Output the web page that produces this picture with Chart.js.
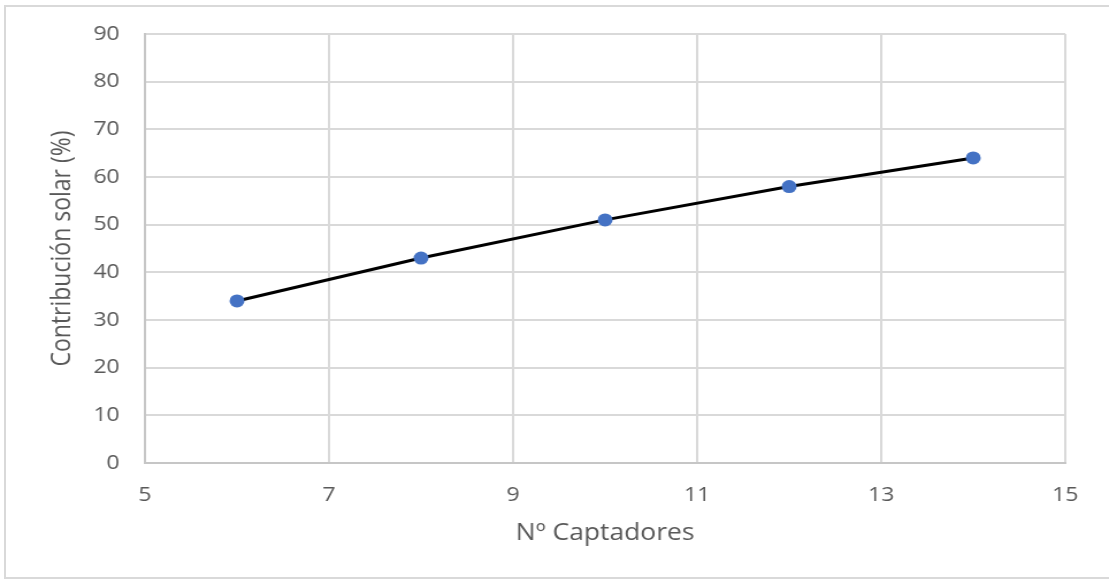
<!DOCTYPE html>
<html lang="es">
<head>
<meta charset="utf-8">
<title>Contribución solar</title>
<script src="https://cdn.jsdelivr.net/npm/chart.js@4/dist/chart.umd.min.js"></script>
<style>
  html, body { margin: 0; padding: 0; background: #ffffff; overflow: hidden; }
  body { width: 1109px; height: 582px; position: relative; }
  #frame {
    position: absolute; left: 4px; top: 5px; width: 1120px; height: 574px;
    border: 2px solid #d9d9d9; box-sizing: border-box;
  }
  #wrap {
    position: absolute; left: 0; top: 0; width: 964px; height: 582px;
    transform: scaleX(1.1504); transform-origin: 0 0;
  }
</style>
</head>
<body>
<div id="frame"></div>
<div id="wrap"><canvas id="chart" width="964" height="582"></canvas></div>
<script>
// Número de captadores y contribución solar obtenida (%)
const captadores = [6, 8, 10, 12, 14];
const contribucion = [34, 43, 51, 58, 64];

// Ejes
const xMin = 5, xMax = 15, xStep = 2;
const yMin = 0, yMax = 90, yStep = 10;
const xTitle = 'Nº Captadores';
const yTitle = 'Contribución solar (%)';

const points = captadores.map((x, i) => ({ x: x, y: contribucion[i] }));

const textColor = '#595959';
const gridColor = '#d9d9d9';
const axisColor = '#c6c6c6';

new Chart(document.getElementById('chart'), {
  type: 'scatter',
  data: {
    datasets: [{
      data: points,
      showLine: true,
      borderColor: '#000000',
      borderWidth: 3,
      tension: 0,
      pointRadius: 6.5,
      pointHoverRadius: 6.5,
      pointBackgroundColor: '#4472c4',
      pointBorderColor: '#4472c4',
      pointBorderWidth: 0
    }]
  },
  options: {
    responsive: false,
    animation: false,
    devicePixelRatio: 1,
    layout: { padding: { top: 34, right: 38, bottom: 0, left: 0 } },
    plugins: { legend: { display: false }, tooltip: { enabled: false } },
    scales: {
      x: {
        type: 'linear',
        min: xMin, max: xMax,
        afterFit: (scale) => { scale.height = 119; },
        ticks: {
          stepSize: xStep,
          color: textColor,
          padding: 20,
          font: { family: 'Open Sans', size: 20 }
        },
        grid: { color: gridColor, lineWidth: 2, drawTicks: false },
        border: { color: axisColor, width: 2 },
        title: {
          display: true,
          text: xTitle,
          color: textColor,
          font: { family: 'Open Sans', size: 23 },
          padding: { top: 0, bottom: 35 }
        }
      },
      y: {
        type: 'linear',
        min: yMin, max: yMax,
        afterFit: (scale) => { scale.width = 126; },
        ticks: {
          stepSize: yStep,
          color: textColor,
          padding: 22,
          font: { family: 'Open Sans', size: 20 }
        },
        grid: { color: gridColor, lineWidth: 2, drawTicks: false },
        border: { color: axisColor, width: 2 },
        title: {
          display: true,
          text: yTitle,
          color: textColor,
          font: { family: 'Open Sans', size: 23 },
          padding: { top: 41, bottom: 0 }
        }
      }
    }
  }
});
</script>
</body>
</html>
